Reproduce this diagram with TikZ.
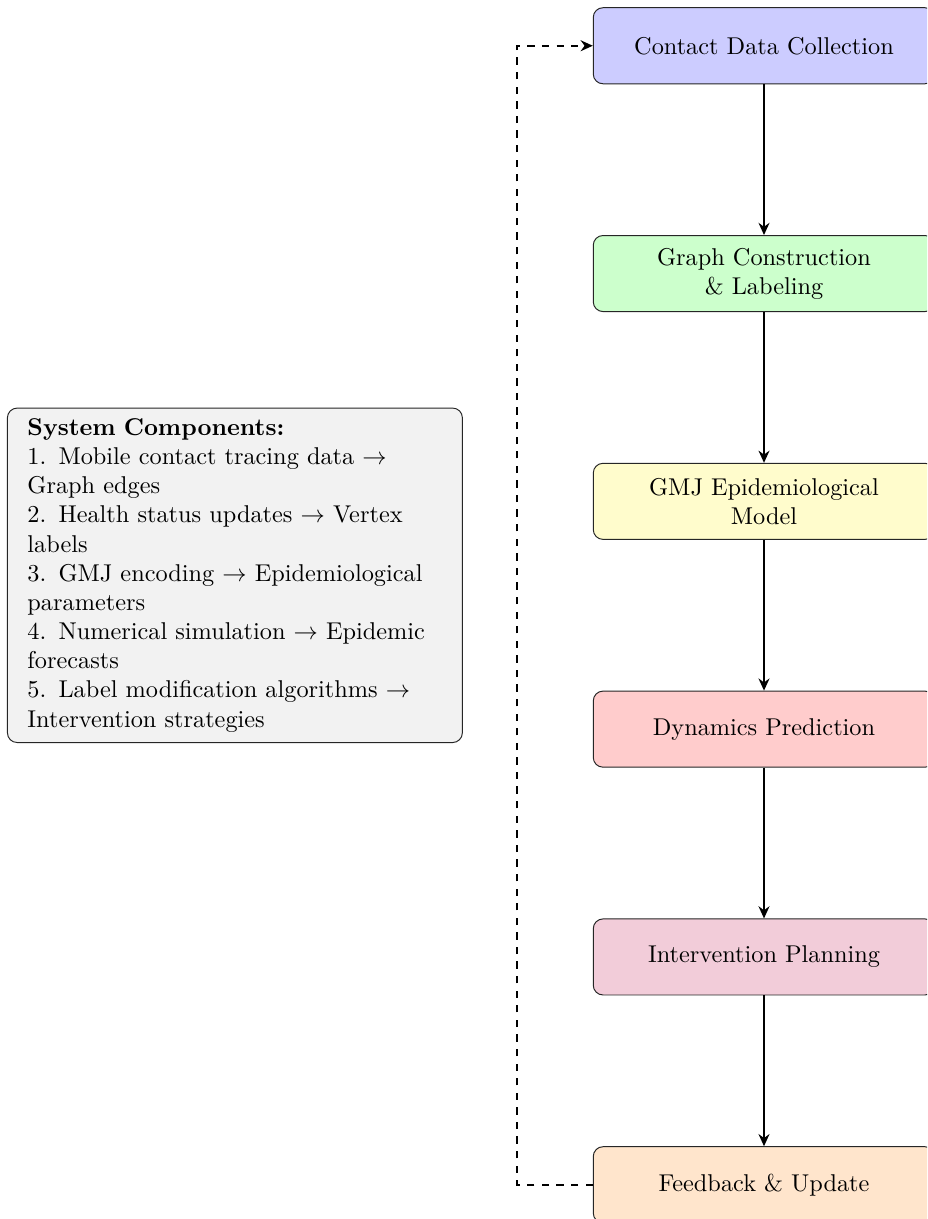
\documentclass[tikz,border=0pt]{standalone}
\usetikzlibrary{arrows.meta}
\tikzset{
  stagebox/.style={draw=black!85, line width=0.4pt, rounded corners=4pt, align=center,
    text width=4cm, inner xsep=13.35pt, minimum height=31.3pt},
  infobox/.style={draw=black!85, line width=0.4pt, rounded corners=4pt, align=left,
    fill=gray!10, text width=6cm, inner xsep=8.25pt, inner ysep=4.3pt},
  flowarrow/.style={-{Stealth[length=5pt,width=4.5pt]}, line width=0.8pt},
  loopline/.style={-{Stealth[length=5pt,width=4.5pt]}, line width=0.8pt, dashed},
}
\begin{document}
\begin{tikzpicture}[x=0.41152pt, y=-0.41152pt]
\useasboundingbox (0,0) rectangle (927,1219);
\clip (0,0) rectangle (927,1219);
\node[stagebox, fill=blue!20]   (n1) at (764,45.75)  {Contact Data Collection};
\node[stagebox, fill=green!20]  (n2) at (764,273.55) {Graph Construction\\ \& Labeling};
\node[stagebox, fill=yellow!20] (n3) at (764,501.35) {GMJ Epidemiological\\ Model};
\node[stagebox, fill=red!20]    (n4) at (764,729.15) {Dynamics Prediction};
\node[stagebox, fill=purple!20] (n5) at (764,956.95) {Intervention Planning};
\node[stagebox, fill=orange!20] (n6) at (764,1184.75) {Feedback \& Update};
\node[infobox] (info) at (234.9,575.3) {\textbf{System Components:}\\
1. Mobile contact tracing data $\rightarrow$ Graph edges\\
2. Health status updates $\rightarrow$ Vertex labels\\
3. GMJ encoding $\rightarrow$ Epidemiological parameters\\
4. Numerical simulation $\rightarrow$ Epidemic forecasts\\
5. Label modification algorithms $\rightarrow$ Intervention strategies};
\draw[flowarrow] (n1) -- (n2);
\draw[flowarrow] (n2) -- (n3);
\draw[flowarrow] (n3) -- (n4);
\draw[flowarrow] (n4) -- (n5);
\draw[flowarrow] (n5) -- (n6);
\draw[loopline] (n6.west) -- ++(-75.6,0) |- (n1.west);
\end{tikzpicture}
\end{document}
